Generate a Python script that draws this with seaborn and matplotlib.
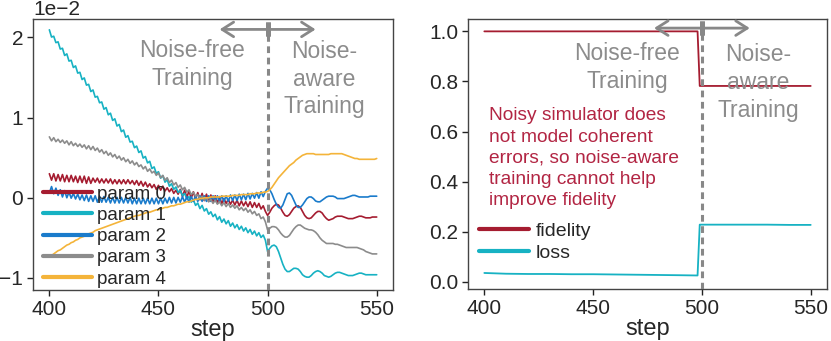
import numpy as np
import pandas as pd
import matplotlib
matplotlib.use("Agg")
import matplotlib.pyplot as plt
import seaborn as sns

# values for the left panel are in units of 1e-2
steps = np.arange(400, 551)

param0 = [
    0.30, 0.22, 0.30, 0.21, 0.29, 0.21, 0.29, 0.20, 0.28, 0.20,
    0.28, 0.20, 0.27, 0.19, 0.27, 0.19, 0.27, 0.18, 0.26, 0.18,
    0.245, 0.195, 0.245, 0.185, 0.235, 0.185, 0.235, 0.185, 0.235, 0.175,
    0.225, 0.175, 0.225, 0.175, 0.225, 0.175, 0.225, 0.175, 0.215, 0.165,
    0.215, 0.155, 0.205, 0.145, 0.195, 0.135, 0.175, 0.125, 0.165, 0.105,
    0.155, 0.095, 0.145, 0.085, 0.125, 0.075, 0.115, 0.055, 0.095, 0.045,
    0.105, 0.015, 0.095, 0.005, 0.085, -0.005, 0.075, -0.015, 0.065, -0.025,
    0.055, -0.035, 0.045, -0.045, 0.035, -0.055, 0.025, -0.065, 0.015, -0.075,
    -0.01, -0.07, -0.02, -0.08, -0.03, -0.09, -0.03, -0.10, -0.04, -0.10,
    -0.05, -0.11, -0.05, -0.12, -0.06, -0.12, -0.07, -0.14, -0.10, -0.17,
    -0.22, -0.18, -0.13, -0.10, -0.08, -0.09, -0.13, -0.18, -0.22, -0.23,
    -0.21, -0.17, -0.13, -0.11, -0.10, -0.12, -0.17, -0.22, -0.25, -0.26,
    -0.25, -0.22, -0.19, -0.17, -0.17, -0.19, -0.23, -0.26, -0.28, -0.27,
    -0.26, -0.24, -0.23, -0.23, -0.23, -0.24, -0.25, -0.26, -0.26, -0.26,
    -0.25, -0.24, -0.23, -0.23, -0.24, -0.25, -0.25, -0.25, -0.24, -0.24, -0.24,
]

param1 = [
    2.095, 2.005, 2.015, 1.935, 1.945, 1.855, 1.865, 1.775, 1.795, 1.705,
    1.715, 1.625, 1.645, 1.555, 1.565, 1.475, 1.495, 1.405, 1.415, 1.325,
    1.345, 1.255, 1.265, 1.185, 1.195, 1.105, 1.125, 1.035, 1.055, 0.965,
    0.985, 0.895, 0.915, 0.825, 0.845, 0.755, 0.775, 0.695, 0.705, 0.625,
    0.645, 0.565, 0.585, 0.495, 0.515, 0.435, 0.455, 0.365, 0.385, 0.305,
    0.325, 0.245, 0.275, 0.195, 0.225, 0.145, 0.175, 0.105, 0.135, 0.065,
    0.095, 0.025, 0.055, -0.015, 0.015, -0.055, -0.025, -0.095, -0.065, -0.135,
    -0.095, -0.165, -0.135, -0.205, -0.175, -0.235, -0.205, -0.275, -0.235, -0.305,
    -0.265, -0.325, -0.285, -0.355, -0.315, -0.375, -0.335, -0.395, -0.355, -0.415,
    -0.375, -0.435, -0.395, -0.455, -0.415, -0.475, -0.435, -0.495, -0.465, -0.53,
    -0.67, -0.63, -0.60, -0.59, -0.61, -0.67, -0.75, -0.83, -0.89, -0.92,
    -0.92, -0.90, -0.88, -0.88, -0.89, -0.92, -0.96, -0.98, -0.99, -0.99,
    -0.97, -0.94, -0.92, -0.91, -0.92, -0.94, -0.97, -0.98, -0.99, -0.98,
    -0.96, -0.94, -0.93, -0.93, -0.94, -0.95, -0.96, -0.97, -0.97, -0.97,
    -0.96, -0.95, -0.94, -0.94, -0.95, -0.96, -0.96, -0.96, -0.96, -0.96, -0.96,
]

param2 = [
    0.06, 0.14, 0.05, 0.12, 0.03, 0.10, 0.01, 0.09, 0.00, 0.07,
    -0.005, 0.055, -0.015, 0.045, -0.025, 0.035, -0.035, 0.035, -0.045, 0.025,
    -0.045, 0.025, -0.055, 0.015, -0.055, 0.015, -0.055, 0.005, -0.065, 0.005,
    -0.065, 0.005, -0.065, 0.005, -0.065, 0.005, -0.065, 0.005, -0.075, -0.005,
    -0.075, -0.005, -0.075, -0.005, -0.075, -0.005, -0.075, -0.005, -0.075, -0.005,
    -0.075, -0.005, -0.075, -0.005, -0.065, 0.005, -0.065, 0.005, -0.065, 0.005,
    -0.055, 0.015, -0.055, 0.015, -0.055, 0.015, -0.045, 0.025, -0.045, 0.025,
    -0.045, 0.025, -0.045, 0.025, -0.045, 0.025, -0.045, 0.025, -0.045, 0.025,
    -0.045, 0.025, -0.045, 0.035, -0.035, 0.035, -0.035, 0.045, -0.025, 0.045,
    -0.025, 0.055, -0.015, 0.055, -0.005, 0.065, -0.005, 0.075, 0.015, 0.08,
    0.12, 0.10, 0.05, -0.02, -0.08, -0.12, -0.13, -0.09, -0.02, 0.05,
    0.06, 0.03, -0.03, -0.09, -0.12, -0.12, -0.09, -0.05, -0.01, 0.01,
    0.01, -0.01, -0.04, -0.05, -0.05, -0.03, -0.01, 0.01, 0.02, 0.02,
    0.02, 0.01, -0.01, -0.01, -0.01, -0.01, 0.00, 0.01, 0.02, 0.03,
    0.03, 0.02, 0.01, 0.01, 0.01, 0.01, 0.01, 0.02, 0.02, 0.02, 0.02,
]

param3 = [
    0.76, 0.71, 0.75, 0.70, 0.73, 0.69, 0.72, 0.68, 0.71, 0.66,
    0.70, 0.65, 0.68, 0.64, 0.67, 0.63, 0.66, 0.61, 0.65, 0.60,
    0.64, 0.59, 0.62, 0.57, 0.60, 0.55, 0.58, 0.53, 0.56, 0.51,
    0.54, 0.49, 0.52, 0.47, 0.50, 0.45, 0.48, 0.43, 0.46, 0.41,
    0.44, 0.39, 0.41, 0.36, 0.39, 0.33, 0.36, 0.31, 0.33, 0.28,
    0.31, 0.25, 0.28, 0.22, 0.25, 0.19, 0.22, 0.16, 0.19, 0.13,
    0.16, 0.10, 0.13, 0.07, 0.10, 0.04, 0.07, 0.02, 0.04, -0.01,
    0.02, -0.03, 0.00, -0.05, -0.02, -0.07, -0.03, -0.08, -0.05, -0.10,
    -0.06, -0.11, -0.07, -0.12, -0.09, -0.13, -0.10, -0.15, -0.12, -0.16,
    -0.13, -0.18, -0.15, -0.20, -0.17, -0.22, -0.20, -0.26, -0.24, -0.30,
    -0.40, -0.38, -0.36, -0.36, -0.37, -0.40, -0.44, -0.47, -0.49, -0.49,
    -0.47, -0.43, -0.39, -0.36, -0.34, -0.34, -0.36, -0.38, -0.39, -0.40,
    -0.40, -0.41, -0.43, -0.46, -0.50, -0.53, -0.55, -0.57, -0.57, -0.57,
    -0.57, -0.58, -0.58, -0.59, -0.60, -0.61, -0.62, -0.62, -0.62, -0.62,
    -0.62, -0.62, -0.63, -0.64, -0.65, -0.67, -0.68, -0.69, -0.70, -0.70, -0.70,
]

param4 = [
    -0.74, -0.72, -0.70, -0.68, -0.66, -0.65, -0.63, -0.61, -0.59, -0.58,
    -0.56, -0.55, -0.53, -0.52, -0.50, -0.49, -0.48, -0.46, -0.45, -0.44,
    -0.43, -0.41, -0.40, -0.39, -0.38, -0.37, -0.36, -0.35, -0.34, -0.33,
    -0.32, -0.31, -0.30, -0.29, -0.28, -0.27, -0.26, -0.25, -0.24, -0.23,
    -0.22, -0.22, -0.21, -0.20, -0.19, -0.18, -0.18, -0.17, -0.16, -0.15,
    -0.15, -0.14, -0.13, -0.12, -0.12, -0.11, -0.10, -0.10, -0.09, -0.08,
    -0.08, -0.07, -0.06, -0.05, -0.05, -0.04, -0.03, -0.02, -0.02, -0.01,
    -0.01, 0.00, 0.00, 0.00, 0.01, 0.01, 0.01, 0.01, 0.01, 0.02,
    0.02, 0.02, 0.02, 0.02, 0.03, 0.03, 0.03, 0.03, 0.04, 0.04,
    0.04, 0.04, 0.05, 0.05, 0.05, 0.06, 0.06, 0.06, 0.07, 0.07,
    0.08, 0.10, 0.13, 0.17, 0.21, 0.25, 0.28, 0.31, 0.34, 0.37,
    0.40, 0.42, 0.44, 0.47, 0.49, 0.51, 0.53, 0.54, 0.55, 0.55,
    0.55, 0.55, 0.54, 0.54, 0.54, 0.54, 0.54, 0.54, 0.54, 0.55,
    0.55, 0.55, 0.55, 0.55, 0.55, 0.54, 0.53, 0.52, 0.51, 0.50,
    0.49, 0.49, 0.48, 0.48, 0.48, 0.48, 0.48, 0.48, 0.48, 0.48, 0.49,
]

param_names = ["param 0", "param 1", "param 2", "param 3", "param 4"]
param_colors = ["#A51C30", "#17B2C3", "#1A7BCB", "#8C8C8C", "#F4B43A"]

# right panel
right_steps = [400, 410, 420, 430, 440, 450, 460, 470, 480, 490, 498, 499,
               510, 520, 530, 540, 550]
fidelity = [1.0, 1.0, 1.0, 1.0, 1.0, 1.0, 1.0, 1.0, 1.0, 1.0, 1.0, 0.782,
            0.782, 0.782, 0.782, 0.782, 0.782]
loss = [0.035, 0.032, 0.031, 0.031, 0.030, 0.030, 0.029, 0.028, 0.027, 0.026,
        0.025, 0.228, 0.228, 0.228, 0.228, 0.227, 0.227]

sns.set_theme(style="ticks")
plt.rcParams["font.family"] = ["Liberation Sans", "DejaVu Sans"]
plt.rcParams["axes.edgecolor"] = "#444444"
plt.rcParams["axes.linewidth"] = 1.0

GRAY_TXT = "#8C8C8C"
RED_TXT = "#B22543"

fig = plt.figure(figsize=(8.31, 3.41), dpi=100)
ax1 = fig.add_axes([0.0397, 0.1496, 0.4333, 0.7947])
ax2 = fig.add_axes([0.5632, 0.1525, 0.4320, 0.7915])

# ---- left: parameters
left_df = pd.DataFrame({
    "step": np.tile(steps, 5),
    "value": np.concatenate([param0, param1, param2, param3, param4]) * 1e-2,
    "param": np.repeat(param_names, len(steps)),
})
sns.lineplot(data=left_df, x="step", y="value", hue="param", palette=param_colors,
             hue_order=param_names, linewidth=1.2, legend=False, ax=ax1)
ax1.set_xlim(392.5, 557.5)
ax1.set_ylim(-1.15e-2, 2.23e-2)
ax1.ticklabel_format(axis="y", style="sci", scilimits=(0, 0))
ax1.set_yticks([-1e-2, 0, 1e-2, 2e-2])

leg1 = ax1.legend(ax1.lines[:5], param_names, loc="lower left",
                  bbox_to_anchor=(0.012, -0.012), frameon=False,
                  fontsize=13.5, handlelength=2.6, handletextpad=0.3,
                  labelspacing=0.22, borderaxespad=0.1, borderpad=0.2)
for h in leg1.get_lines():
    h.set_linewidth(3)

# ---- right: fidelity / loss
right_df = pd.DataFrame({
    "step": right_steps * 2,
    "value": fidelity + loss,
    "metric": ["fidelity"] * len(right_steps) + ["loss"] * len(right_steps),
})
sns.lineplot(data=right_df, x="step", y="value", hue="metric",
             palette=["#A51C30", "#17B2C3"], linewidth=1.3, legend=False, ax=ax2)
ax2.set_xlim(392.5, 557.5)
ax2.set_ylim(-0.029, 1.049)
ax2.set_yticks([0.0, 0.2, 0.4, 0.6, 0.8, 1.0])
leg2 = ax2.legend(ax2.lines[:2], ["fidelity", "loss"], loc="lower left",
                  bbox_to_anchor=(0.014, 0.079), frameon=False, fontsize=14,
                  handlelength=2.6, handletextpad=0.3, labelspacing=0.22,
                  borderaxespad=0.1, borderpad=0.2)
for h in leg2.get_lines():
    h.set_linewidth(3)

ax2.text(402, 0.493, "Noisy simulator does\nnot model coherent\nerrors, so noise-aware\n"
         "training cannot help\nimprove fidelity", color=RED_TXT, fontsize=13.8,
         ha="left", va="center", linespacing=1.32)

# ---- shared decoration
for ax, arrow_y, free_y, aware_y in [(ax1, 2.10e-2, 1.66e-2, 1.48e-2),
                                     (ax2, 1.013, 0.856, 0.795)]:
    ax.axvline(500, color="#888888", lw=2.2, linestyle=(0, (2.2, 1.5)), zorder=3)
    for x_end in (478, 522):
        ax.annotate("", xy=(x_end, arrow_y), xytext=(500, arrow_y),
                    arrowprops=dict(arrowstyle="->,head_length=0.55,head_width=0.35",
                                    color="#888888", lw=2, shrinkA=0, shrinkB=0,
                                    mutation_scale=15))
    ax.plot([500, 500], [arrow_y, arrow_y], marker="|", markersize=10, mew=3.5,
            color="#888888", zorder=4)
    ax.text(465.5, free_y, "Noise-free\nTraining", color=GRAY_TXT, fontsize=16.5,
            ha="center", va="center", linespacing=1.27)
    ax.text(526, aware_y, "Noise-\naware\nTraining", color=GRAY_TXT, fontsize=16.5,
            ha="center", va="center", linespacing=1.27)
    ax.set_xticks([400, 450, 500, 550])
    ax.set_xlabel("step", fontsize=17, labelpad=0)
    ax.set_ylabel("")
    ax.tick_params(labelsize=15, length=4, width=1, pad=3, color="#222222")
    for side in ["top", "right", "left", "bottom"]:
        ax.spines[side].set_visible(True)

ax1.yaxis.get_offset_text().set_fontsize(15)

fig.savefig("out.png", dpi=100)
